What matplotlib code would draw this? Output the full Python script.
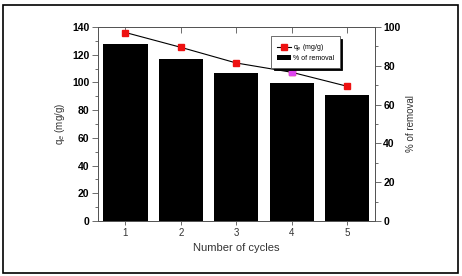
import matplotlib
matplotlib.use("Agg")
import matplotlib.pyplot as plt
from matplotlib.patches import Rectangle

plt.rcParams['font.family'] = ['Liberation Sans', 'DejaVu Sans']

# data
cycles = [1, 2, 3, 4, 5]
qe = [136, 125.3, 114, 107.3, 97.2]          # left axis, mg/g
removal = [91.2, 83.5, 76.3, 71.1, 65.0]     # right axis, %
odd_point = 3                                 # the 4th marker is drawn magenta

fig = plt.figure(figsize=(4.62, 2.76), dpi=100)
# outer frame
fig.patches.append(Rectangle((3/462, 3/276), 455/462, 268/276, transform=fig.transFigure,
                             fill=False, edgecolor='black', linewidth=1.2))

ax = fig.add_axes([0.2115, 0.1993, 0.600, 0.703])
ax2 = ax.twinx()

bars = ax2.bar(cycles, removal, width=0.8, color='black', label='% of removal')
line, = ax.plot(cycles, qe, color='black', linewidth=0.8, marker='s', markersize=5,
                markerfacecolor='#ee1111', markeredgecolor='#ee1111', zorder=3)
ax.plot([cycles[odd_point]], [qe[odd_point]], marker='s', markersize=5, color='#dd44ee',
        linestyle='none', zorder=4)

# line above the bars
ax.set_zorder(ax2.get_zorder() + 1)
ax.patch.set_visible(False)

ax.set_xlim(0.5, 5.5)
ax.set_ylim(0, 140)
ax2.set_ylim(0, 100)
ax.set_xticks(cycles)
ax.set_yticks(range(0, 141, 20))
ax.set_yticks(range(10, 141, 20), minor=True)
ax2.set_yticks(range(0, 101, 20))
ax2.set_yticks(range(10, 101, 20), minor=True)

spine_col = '#555555'
for a in (ax, ax2):
    for s in a.spines.values():
        s.set_color(spine_col)
        s.set_linewidth(0.7)
ax.tick_params(axis='y', which='major', length=4, width=0.6, color=spine_col, labelsize=7.5, pad=2)
ax.tick_params(axis='y', which='minor', length=2.5, width=0.6, color=spine_col)
ax2.tick_params(axis='y', which='major', length=4, width=0.6, color=spine_col, labelsize=7.5, pad=2)
ax2.tick_params(axis='y', which='minor', length=2.5, width=0.6, color=spine_col)
ax.tick_params(axis='x', which='major', length=3, width=0.6, color=spine_col, labelsize=7,
               labelcolor='#333333', pad=2, top=True)
for lbl in ax.get_yticklabels() + ax2.get_yticklabels():
    lbl.set_fontweight('bold')

# top ticks point inward
for t in ax.xaxis.get_major_ticks():
    t.tick2line.set_marker(3)
    t.tick2line.set_markersize(4)

ax.set_xlabel('Number of cycles', fontsize=8, color='#333333', labelpad=4)
ax.set_ylabel('q$_e$ (mg/g)', fontsize=7, color='#333333', labelpad=4)
ax2.set_ylabel('% of removal', fontsize=7, color='#333333', labelpad=4)

leg = ax.legend([line, bars], ['q$_e$ (mg/g)', '% of removal'], loc='upper left',
                bbox_to_anchor=(0.614, 0.969), fontsize=5, frameon=True, fancybox=False,
                shadow={'color': 'black', 'alpha': 1}, borderpad=0.8, handlelength=2.0,
                handletextpad=0.3, labelspacing=0.3)
leg.get_frame().set_edgecolor('#555555')
leg.get_frame().set_linewidth(0.6)

fig.savefig('out.png', dpi=100)
